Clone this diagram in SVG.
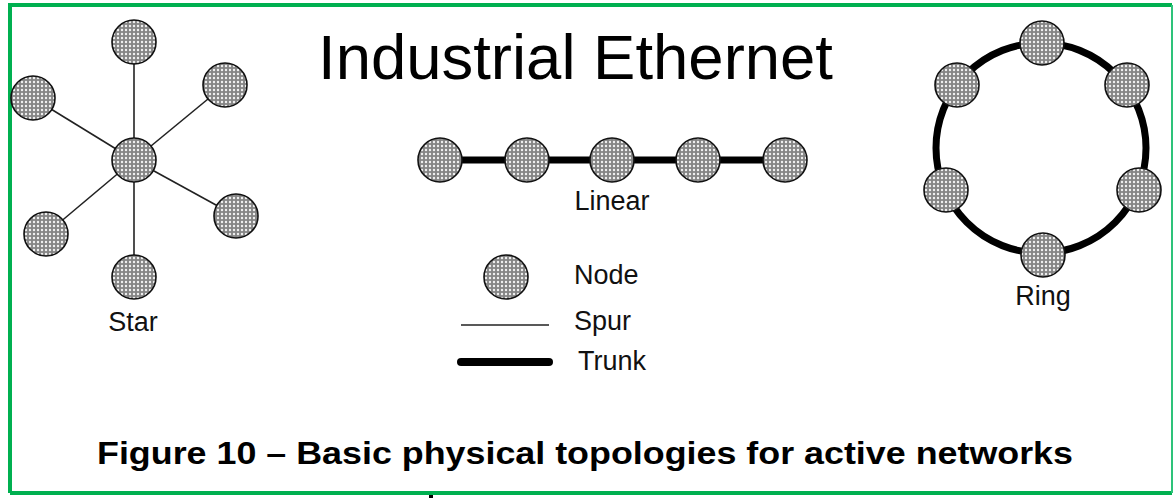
<svg xmlns="http://www.w3.org/2000/svg" width="1173" height="498" viewBox="0 0 1173 498">
<style>
.node{fill:url(#dots);stroke:#111;stroke-width:1.6}
.spur{stroke:#222;stroke-width:1.6;fill:none}
.trunk{stroke:#000;stroke-width:7;fill:none}
.lbl{font-family:"Liberation Sans",Arial,sans-serif;font-size:27px;fill:#111}
</style>
<defs>
<pattern id="dots" width="4" height="4" patternUnits="userSpaceOnUse">
<rect width="4" height="4" fill="#858585"/>
<circle cx="2" cy="2" r="1.2" fill="#f0f0f0"/>
</pattern>
</defs>
<rect x="0" y="0" width="1173" height="498" fill="#fff"/>
<path d="M10,493 V5 H1172" fill="none" stroke="#00B050" stroke-width="4"/>
<path d="M10,493 H1172" fill="none" stroke="#00B050" stroke-width="4"/>
<path d="M1172,5 V493" fill="none" stroke="#2ec37a" stroke-width="2"/>
<rect x="429" y="495" width="4" height="3" fill="#000"/>
<text x="318" y="79" font-family="Liberation Sans, Arial, sans-serif" font-size="63" fill="#000" textLength="515" lengthAdjust="spacingAndGlyphs">Industrial Ethernet</text>
<g id="connectors">
<line class="spur" x1="134" y1="160" x2="134" y2="42"/>
<line class="spur" x1="134" y1="160" x2="33" y2="98"/>
<line class="spur" x1="134" y1="160" x2="225" y2="85"/>
<line class="spur" x1="134" y1="160" x2="236" y2="216"/>
<line class="spur" x1="134" y1="160" x2="46" y2="234"/>
<line class="spur" x1="134" y1="160" x2="134" y2="277"/>
<line class="trunk" x1="440" y1="160" x2="785" y2="160"/>
<circle class="trunk" cx="1041" cy="148" r="105"/>
<line class="spur" x1="461" y1="325" x2="549" y2="325"/>
<line x1="461" y1="362" x2="549" y2="362" stroke="#000" stroke-width="8" stroke-linecap="round"/>
</g>
<g id="star">
<circle class="node" cx="134" cy="160" r="22"/>
<circle class="node" cx="134" cy="42" r="22"/>
<circle class="node" cx="33" cy="98" r="22"/>
<circle class="node" cx="225" cy="85" r="22"/>
<circle class="node" cx="236" cy="216" r="22"/>
<circle class="node" cx="46" cy="234" r="22"/>
<circle class="node" cx="134" cy="277" r="22"/>
<text class="lbl" x="133" y="331" text-anchor="middle">Star</text>
</g>
<g id="linear">
<circle class="node" cx="440" cy="160" r="22"/>
<circle class="node" cx="527" cy="160" r="22"/>
<circle class="node" cx="612" cy="160" r="22"/>
<circle class="node" cx="698" cy="160" r="22"/>
<circle class="node" cx="785" cy="160" r="22"/>
<text class="lbl" x="612" y="210" text-anchor="middle">Linear</text>
</g>
<g id="ring">
<circle class="node" cx="1042" cy="43" r="22"/>
<circle class="node" cx="957" cy="85" r="22"/>
<circle class="node" cx="1127" cy="85" r="22"/>
<circle class="node" cx="946" cy="190" r="22"/>
<circle class="node" cx="1139" cy="190" r="22"/>
<circle class="node" cx="1043" cy="255" r="22"/>
<text class="lbl" x="1043" y="305" text-anchor="middle">Ring</text>
</g>
<g id="legend">
<circle class="node" cx="506" cy="277" r="22"/>
<text class="lbl" x="574" y="284">Node</text>
<text class="lbl" x="574" y="330">Spur</text>
<text class="lbl" x="578" y="370">Trunk</text>
</g>
<text x="97" y="464" font-family="Liberation Sans, Arial, sans-serif" font-weight="bold" font-size="31" fill="#000" textLength="976" lengthAdjust="spacingAndGlyphs">Figure 10 – Basic physical topologies for active networks</text>
</svg>
